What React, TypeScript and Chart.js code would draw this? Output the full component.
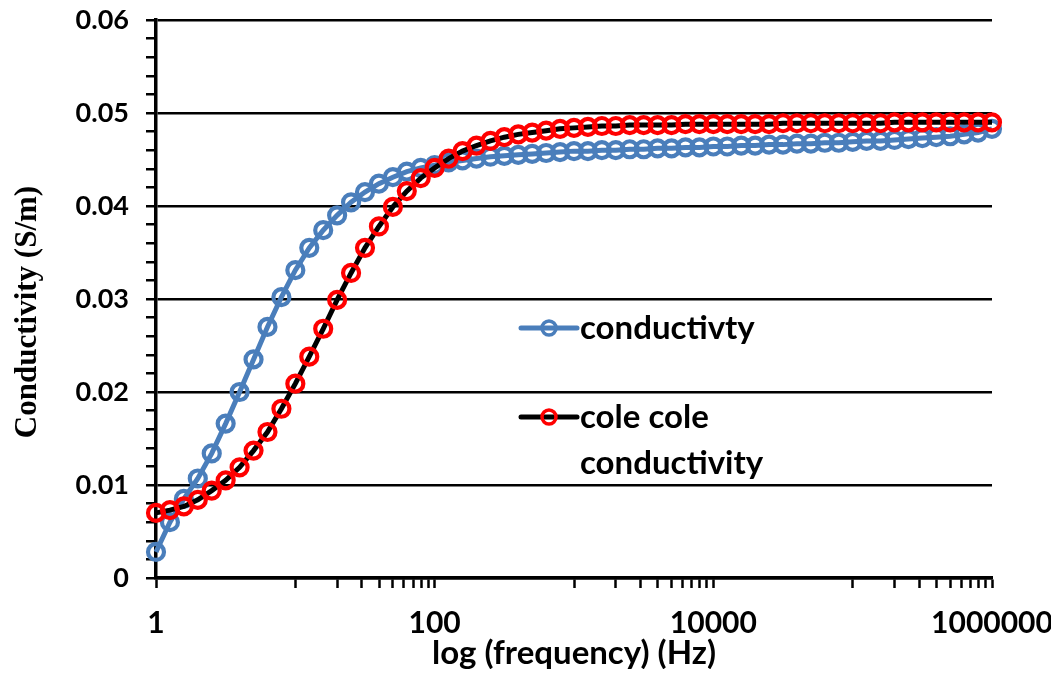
import React, { useEffect, useRef } from "react";
import { Chart, registerables } from "chart.js";

Chart.register(...registerables);

// Frequencies (Hz), 10 points per decade from 1 Hz to 1 MHz
const frequencies = [
  1, 1.259, 1.585, 1.995, 2.512, 3.162, 3.981, 5.012, 6.31, 7.943,
  10, 12.59, 15.85, 19.95, 25.12, 31.62, 39.81, 50.12, 63.1, 79.43,
  100, 125.9, 158.5, 199.5, 251.2, 316.2, 398.1, 501.2, 631, 794.3,
  1000, 1259, 1585, 1995, 2512, 3162, 3981, 5012, 6310, 7943,
  10000, 12589, 15849, 19953, 25119, 31623, 39811, 50119, 63096, 79433,
  100000, 125893, 158489, 199526, 251189, 316228, 398107, 501187, 630957, 794328,
  1000000,
];

// Measured conductivity (S/m)
const conductivity = [
  0.0028, 0.006, 0.0085, 0.0107, 0.0134, 0.0166, 0.02, 0.0235, 0.027, 0.0302,
  0.0331, 0.0355, 0.0374, 0.039, 0.0404, 0.0415, 0.0424, 0.0431, 0.0437, 0.0441,
  0.0444, 0.0447, 0.0449, 0.0451, 0.0453, 0.0454, 0.0455, 0.0456, 0.0457, 0.0458,
  0.0459, 0.0459, 0.046, 0.046, 0.0461, 0.0461, 0.0462, 0.0462, 0.0463, 0.0463,
  0.0464, 0.0464, 0.0465, 0.0465, 0.0466, 0.0466, 0.0467, 0.0467, 0.0468, 0.0468,
  0.0469, 0.047, 0.047, 0.0471, 0.0472, 0.0473, 0.0474, 0.0475, 0.0477, 0.0479,
  0.0483,
];

// Cole-Cole model conductivity (S/m)
const coleCole = [
  0.007, 0.0073, 0.0077, 0.0084, 0.0094, 0.0105, 0.0119, 0.0137, 0.0157, 0.0182,
  0.0209, 0.0238, 0.0268, 0.0299, 0.0328, 0.0355, 0.0378, 0.0399, 0.0416, 0.043,
  0.0441, 0.0451, 0.0459, 0.0465, 0.047, 0.0474, 0.0477, 0.0479, 0.0481, 0.0483,
  0.0484, 0.0485, 0.0486, 0.0486, 0.0487, 0.0487, 0.0487, 0.0487, 0.0488, 0.0488,
  0.0488, 0.0488, 0.0488, 0.0488, 0.0488, 0.0489, 0.0489, 0.0489, 0.0489, 0.0489,
  0.0489, 0.0489, 0.0489, 0.049, 0.049, 0.049, 0.049, 0.049, 0.049, 0.049,
  0.049,
];

const xMajorTicks = [1, 100, 10000, 1000000];
const xMinorTicks = [
  10, 20, 30, 40, 50, 60, 70, 80, 90,
  1000, 2000, 3000, 4000, 5000, 6000, 7000, 8000, 9000,
  100000, 200000, 300000, 400000, 500000, 600000, 700000, 800000, 900000,
];
const yMin = 0;
const yMax = 0.06;
const yMajorStep = 0.01;
const yMinorStep = 0.002;

const seriesNames = ["conductivty", "cole cole conductivity"];
const legendLines = [["conductivty"], ["cole cole", "conductivity"]];
const xTitle = "log (frequency) (Hz)";
const yTitle = "Conductivity (S/m)";

const BLUE = "#4a7ebb";
const RED = "#ff0000";

const isMajorY = (v: number) =>
  Math.abs(v / yMajorStep - Math.round(v / yMajorStep)) < 1e-6;

const overlayPlugin = {
  id: "overlay",
  afterDraw(chart: any) {
    const ctx = chart.ctx as CanvasRenderingContext2D;
    // Y axis title
    ctx.save();
    ctx.translate(28, 312);
    ctx.rotate(-Math.PI / 2);
    ctx.font = 'bold 31px "Liberation Serif"';
    ctx.fillStyle = "#000";
    ctx.textAlign = "center";
    ctx.textBaseline = "middle";
    ctx.fillText(yTitle, 0, 0);
    ctx.restore();

    // Legend
    const entries = [
      { line: BLUE, marker: BLUE, y: 328, lines: legendLines[0] },
      { line: "#000", marker: RED, y: 417, lines: legendLines[1] },
    ];
    ctx.save();
    for (const e of entries) {
      ctx.strokeStyle = e.line;
      ctx.lineWidth = 5;
      ctx.lineCap = "round";
      ctx.beginPath();
      ctx.moveTo(521, e.y);
      ctx.lineTo(577, e.y);
      ctx.stroke();
      ctx.strokeStyle = e.marker;
      ctx.lineWidth = 3.5;
      ctx.beginPath();
      ctx.arc(549, e.y, 7, 0, Math.PI * 2);
      ctx.stroke();
      ctx.fillStyle = "#000";
      ctx.font = "bold 33px Lato";
      ctx.textAlign = "left";
      ctx.textBaseline = "middle";
      e.lines.forEach((t, i) => ctx.fillText(t, 580, e.y + i * 46));
    }
    ctx.restore();
  },
};

export default function App() {
  const canvasRef = useRef<HTMLCanvasElement | null>(null);

  useEffect(() => {
    if (!canvasRef.current) return;
    const chart = new Chart(canvasRef.current, {
      type: "line",
      data: {
        datasets: [
          {
            label: seriesNames[1],
            data: frequencies.map((f, i) => ({ x: f, y: coleCole[i] })),
            borderColor: "#000",
            borderWidth: 5,
            pointRadius: 8,
            pointBorderWidth: 4.2,
            pointBorderColor: RED,
            pointBackgroundColor: "rgba(0,0,0,0)",
            tension: 0,
            clip: false as any,
            order: 0,
          },
          {
            label: seriesNames[0],
            data: frequencies.map((f, i) => ({ x: f, y: conductivity[i] })),
            borderColor: BLUE,
            borderWidth: 5,
            pointRadius: 8,
            pointBorderWidth: 4.2,
            pointBorderColor: BLUE,
            pointBackgroundColor: "rgba(0,0,0,0)",
            tension: 0,
            clip: false as any,
            order: 1,
          },
        ],
      },
      options: {
        animation: false,
        responsive: false,
        events: [],
        layout: { padding: { top: 20, right: 67, left: 0, bottom: 0 } },
        plugins: {
          legend: { display: false },
          tooltip: { enabled: false },
        },
        scales: {
          x: {
            type: "logarithmic",
            min: 1,
            max: 1000000,
            afterBuildTicks: (scale: any) => {
              scale.ticks = [...xMajorTicks, ...xMinorTicks]
                .sort((a, b) => a - b)
                .map((v) => ({ value: v }));
            },
            afterFit: (scale: any) => {
              scale.height = 99;
              scale.paddingLeft = 0;
              scale.paddingRight = 0;
            },
            ticks: {
              autoSkip: false,
              maxRotation: 0,
              minRotation: 0,
              padding: 17,
              color: "#000",
              font: { family: "Lato", size: 30, weight: "bold" },
              callback: (v: any) =>
                xMajorTicks.includes(Number(v)) ? String(v) : "",
            },
            grid: {
              display: true,
              drawOnChartArea: false,
              drawTicks: true,
              tickLength: 10,
              tickColor: "#000",
              tickWidth: 2.5,
            },
            border: { display: true, color: "#000", width: 3.5 },
            title: {
              display: true,
              text: xTitle,
              color: "#000",
              font: { family: "Lato", size: 33, weight: "bold", lineHeight: 1 },
              padding: { top: 0, bottom: 7.5 },
            },
          },
          y: {
            type: "linear",
            min: yMin,
            max: yMax,
            afterFit: (scale: any) => {
              scale.width = 156;
              scale.paddingTop = 0;
              scale.paddingBottom = 0;
            },
            ticks: {
              stepSize: yMinorStep,
              autoSkip: false,
              padding: 17,
              color: "#000",
              font: { family: "Lato", size: 27, weight: "bold" },
              callback: (v: any) => {
                const n = Number(v);
                if (!isMajorY(n)) return "";
                return Math.abs(n) < 1e-9 ? "0" : n.toFixed(2);
              },
            },
            grid: {
              display: true,
              drawOnChartArea: true,
              drawTicks: true,
              tickLength: 10,
              lineWidth: 2.5,
              tickWidth: 2.5,
              tickColor: "#000",
              color: (c: any) =>
                c.tick && isMajorY(c.tick.value) ? "#000" : "rgba(0,0,0,0)",
            },
            border: { display: true, color: "#000", width: 3.5 },
          },
        },
      },
      plugins: [overlayPlugin],
    });
    return () => chart.destroy();
  }, []);

  return (
    <div style={{ margin: "-8px", width: 1059, height: 677 }}>
      <canvas
        ref={canvasRef}
        width={1059}
        height={677}
        style={{ display: "block", width: 1059, height: 677 }}
      />
    </div>
  );
}
